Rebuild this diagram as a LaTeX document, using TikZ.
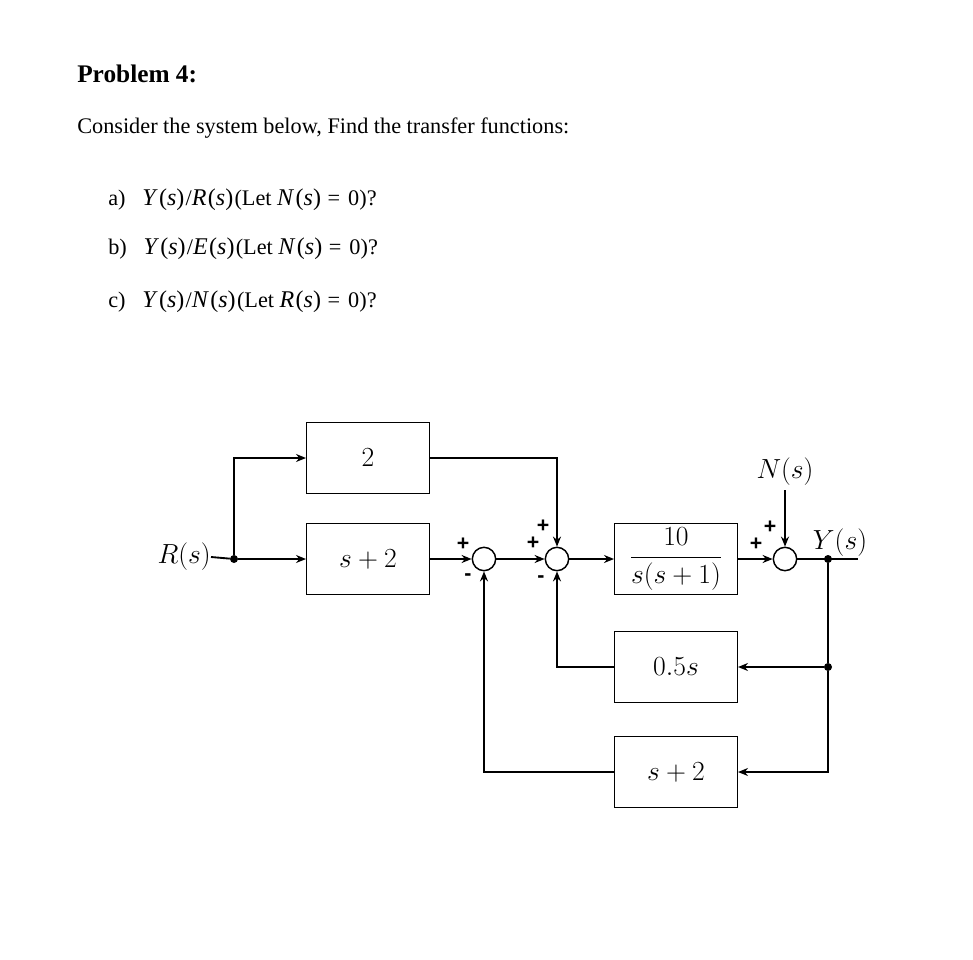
\documentclass[tikz,border=0pt]{standalone}
\usepackage[no-math]{fontspec}
\setmainfont{Liberation Serif}
\newfontfamily\signfont{Liberation Sans}
\usetikzlibrary{arrows.meta,positioning}
\newcommand\mi[1]{{\fontsize{18}{20}\selectfont\itshape #1\/}}
\newcommand\mparg[1]{{\fontsize{18}{20}\selectfont\kern1pt(\mi{#1})\kern1pt}}
\newcommand\eqzero{\hspace{4pt}=\hspace{6pt}0}
\begin{document}
\begin{tikzpicture}[x=0.75pt,y=-0.75pt,
  blk/.style={draw,line width=1pt,minimum width=92pt,minimum height=53pt,inner sep=0pt,font=\fontsize{19.5}{23}\selectfont},
  sumc/.style={draw,circle,line width=1.1pt,minimum size=17.5pt,inner sep=0pt},
  sig/.style={font=\signfont\bfseries\fontsize{16}{16}\selectfont,inner sep=0pt},
  wire/.style={line width=1.4pt},
  arr/.style={line width=1.4pt,-{Stealth[length=7.5pt,width=6pt]}},
  dot/.style={circle,fill,inner sep=0pt,minimum size=6pt},
  txt/.style={anchor=base west,inner sep=0pt,font=\fontsize{16.7}{20}\selectfont},
  lbl/.style={inner sep=0pt,font=\fontsize{19.5}{23}\selectfont}]
\useasboundingbox (0,0) rectangle (973,959);
% text
\node[txt,font=\fontsize{19}{22}\selectfont\bfseries] (title) at (77,83) {Problem 4:};
\node[txt] (intro) at (77,134) {Consider the system below, Find the transfer functions:};
\node[txt] (qa) at (108,205) {a)\hspace{0.75em}\mi{Y}\mparg{s}/\mi{R}\mparg{s}(Let \mi{N}\mparg{s}\eqzero)?};
\node[txt] (qb) at (108,254) {b)\hspace{0.75em}\mi{Y}\mparg{s}/\mi{E}\mparg{s}(Let \mi{N}\mparg{s}\eqzero)?};
\node[txt] (qc) at (108,307) {c)\hspace{0.75em}\mi{Y}\mparg{s}/\mi{N}\mparg{s}(Let \mi{R}\mparg{s}\eqzero)?};
% blocks
\node[blk] (b2) at (368,458) {$2$};
\node[blk] (bs2) at (368,559) {$s+2$};
\node[blk] (g) at (676,559) {$\displaystyle\frac{10}{s(s+1)}$};
\node[blk] (h1) at (676,667) {$0.5s$};
\node[blk] (h2) at (676,772) {$s+2$};
% sums
\node[sumc] (s1) at (484,559) {};
\node[sumc] (s2) at (557,559) {};
\node[sumc] (s3) at (785,559) {};
% labels
\node[lbl,anchor=east] (R) at (211,557) {$R(s)$};
\node[lbl] (N) at (785,472) {$N(s)$};
\node[lbl] (Y) at (840,543) {$Y(s)$};
\node[dot] (d0) at (234,559) {};
\node[dot] (d1) at (828,559) {};
\node[dot] (d2) at (828,667) {};
\coordinate (Nst) at (785,490);
\coordinate (Yend) at (858,559);
% signs
\node[sig] (p1) at (463,544) {+};
\node[sig] (m1) at (468,577) {-};
\node[sig] (p2a) at (543,526) {+};
\node[sig] (p2b) at (533,543) {+};
\node[sig] (m2) at (541,579) {-};
\node[sig] (p3a) at (770,527) {+};
\node[sig] (p3b) at (756,544) {+};
% wires
\draw[wire] (R.east) -- (d0);
\draw[arr] (d0) -- (bs2.west);
\draw[arr] (d0) |- (b2.west);
\draw[arr] (bs2.east) -- (s1.west);
\draw[arr] (s1.east) -- (s2.west);
\draw[arr] (b2.east) -| (s2.north);
\draw[arr] (s2.east) -- (g.west);
\draw[arr] (g.east) -- (s3.west);
\draw[arr] (Nst) -- (s3.north);
\draw[wire] (s3.east) -- (Yend);
\draw[wire] (d1) -- (d2);
\draw[arr] (d2) -- (h1.east);
\draw[arr] (d2) |- (h2.east);
\draw[arr] (h1.west) -| (s2.south);
\draw[arr] (h2.west) -| (s1.south);
\end{tikzpicture}
\end{document}
